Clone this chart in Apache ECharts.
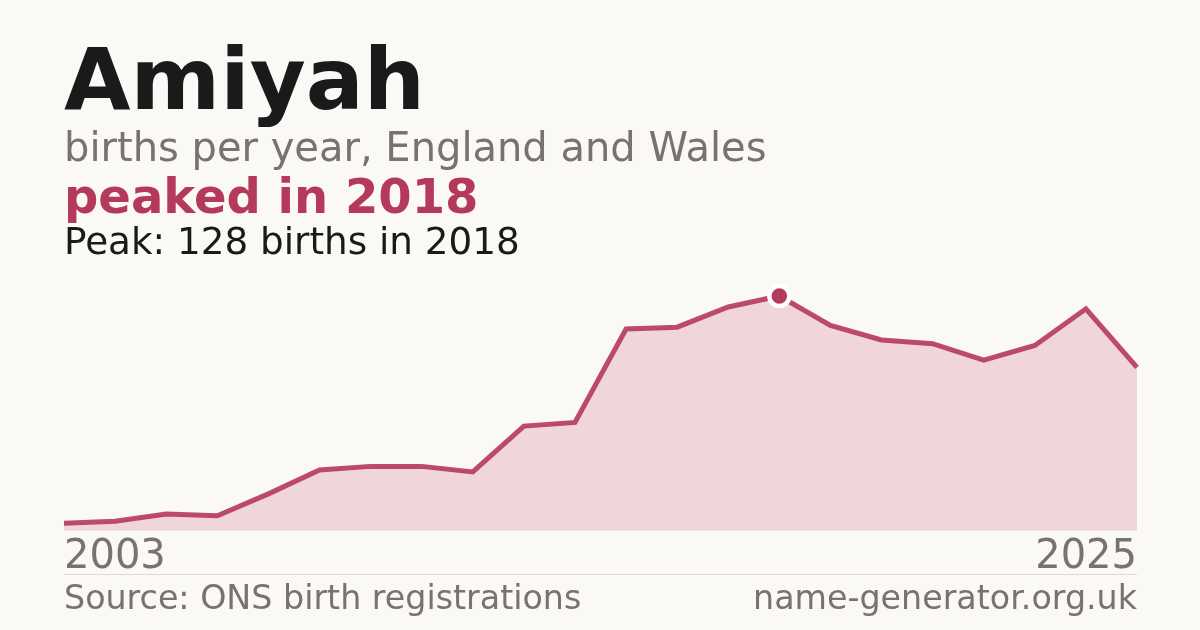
<!DOCTYPE html>
<html>
<head>
<meta charset="utf-8">
<script src="https://cdn.jsdelivr.net/npm/echarts@6/dist/echarts.min.js"></script>
<style>
html,body{margin:0;padding:0;background:#faf9f5;}
#chart{width:1200px;height:630px;}
</style>
</head>
<body>
<div id="chart"></div>
<script>
const years = ['2003','2005','2006','2007','2008','2009','2010','2011','2012','2013','2014','2015','2016','2017','2018','2019','2020','2021','2022','2023','2024','2025'];
const births = [4,5,9,8,20,33,35,35,32,57,59,110,111,122,128,112,104,102,93,101,121,89];
const peakIndex = 14;
const titleText = 'Amiyah';
const subtitleText = 'births per year, England and Wales';
const highlightText = 'peaked in 2018';
const detailText = 'Peak: 128 births in 2018';
const sourceText = 'Source: ONS birth registrations';
const siteText = 'name-generator.org.uk';

const RED = '#b5395a';
const GRAY = '#78736c';
const DARK = '#1a1a1a';
const FONT = '"DejaVu Sans", sans-serif';

const chart = echarts.init(document.getElementById('chart'), null, {renderer:'canvas'});

function txt(text, x, baseline, size, weight, color, align) {
  return {
    type: 'text',
    x: x, y: baseline - 0.346 * size,
    style: {
      text: text, fill: color, align: align || 'left', verticalAlign: 'middle',
      font: weight + ' ' + size + 'px ' + FONT, lineHeight: size
    }, silent: true
  };
}

const seriesData = births.map((v, i) => i === peakIndex ? {
  value: v, symbol: 'circle', symbolSize: 20,
  itemStyle: {color: RED, borderColor: '#ffffff', borderWidth: 4.5, opacity: 1}
} : {value: v, symbol: 'none'});

chart.setOption({
  backgroundColor: '#faf9f5',
  animation: false,
  grid: {left: 64, right: 63, top: 296, bottom: 99.5, containLabel: false},
  xAxis: {
    type: 'category', data: years, boundaryGap: false,
    axisLine: {show: false}, axisTick: {show: false}, splitLine: {show: false},
    axisLabel: {
      interval: (i) => i === 0 || i === years.length - 1,
      fontFamily: FONT, fontSize: 40, color: GRAY, margin: 7, lineHeight: 40,
      alignMinLabel: 'left', alignMaxLabel: 'right', showMinLabel: true, showMaxLabel: true
    }
  },
  yAxis: {
    type: 'value', min: 0, max: 128, show: false, splitLine: {show: false}
  },
  series: [{
    type: 'line', data: seriesData, showSymbol: true,
    symbol: 'none',
    lineStyle: {color: RED, width: 5, opacity: 0.9, join: 'miter'},
    itemStyle: {color: RED},
    areaStyle: {color: '#f0d5da', opacity: 1},
    z: 3
  }],
  graphic: [
    txt(titleText, 64, 116, 86, 'bold', DARK),
    txt(subtitleText, 64, 164, 40, 'normal', GRAY),
    txt(highlightText, 64, 217, 48, 'bold', RED),
    txt(detailText, 64, 257, 37.3, 'normal', DARK),
    {type: 'line', shape: {x1: 64, y1: 574.5, x2: 1137, y2: 574.5}, style: {stroke: '#dedbd4', lineWidth: 1}, silent: true},
    txt(sourceText, 64, 612, 33.3, 'normal', GRAY),
    txt(siteText, 1137, 612, 33.3, 'normal', GRAY, 'right')
  ]
});
</script>
</body>
</html>
